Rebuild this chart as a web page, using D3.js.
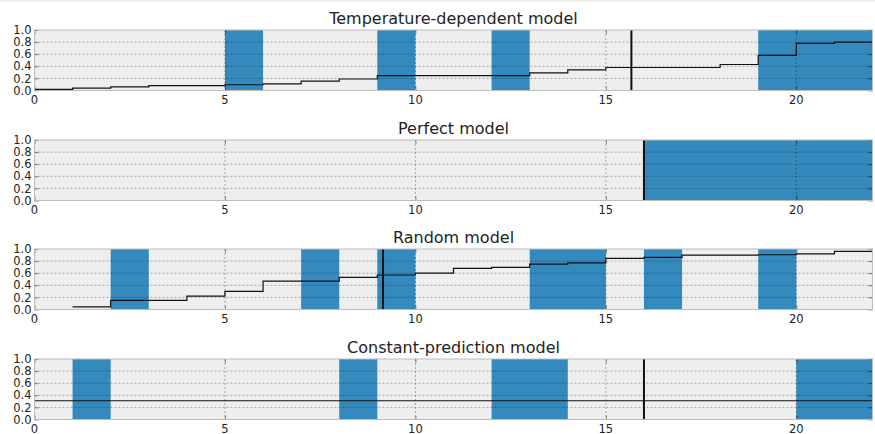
<!DOCTYPE html>
<html>
<head>
<meta charset="utf-8">
<script src="https://cdn.jsdelivr.net/npm/d3@7"></script>
<style>
  body { margin: 0; background: #fff; }
  text { font-family: "DejaVu Sans", sans-serif; fill: #222; }
</style>
</head>
<body>
<div id="chart"></div>
<script>
// tick labels
let x_ticks = [0, 5, 10, 15, 20]
let y_ticks = [0, 0.2, 0.4, 0.6, 0.8, 1.0]

let titles = ["Temperature-dependent model", "Perfect model", "Random model", "Constant-prediction model"]

// shaded periods (start, end)
let temp_spans = [[5, 6], [9, 10], [12, 13], [19, 22]]
let perfect_spans = [[16, 22]]
let random_spans = [[2, 3], [7, 8], [9, 10], [13, 15], [16, 17], [19, 20]]
let const_spans = [[1, 2], [8, 9], [12, 14], [20, 22]]

// step values, one per unit interval starting at x = 0 (null = no line)
let temp_steps = [0.02, 0.04, 0.06, 0.08, 0.08, 0.095, 0.11, 0.155, 0.19, 0.245, 0.245,
    0.245, 0.245, 0.29, 0.34, 0.38, 0.38, 0.38, 0.43, 0.58, 0.78, 0.80]
let perfect_steps = []
let random_steps = [null, 0.045, 0.15, 0.15, 0.22, 0.30, 0.47, 0.47, 0.53, 0.57, 0.60,
    0.68, 0.695, 0.75, 0.77, 0.845, 0.86, 0.90, 0.90, 0.905, 0.92, 0.96]
let const_steps = [0.31, 0.31, 0.31, 0.31, 0.31, 0.31, 0.31, 0.31, 0.31, 0.31, 0.31,
    0.31, 0.31, 0.31, 0.31, 0.31, 0.31, 0.31, 0.31, 0.31, 0.31, 0.31]

// black vertical markers
let marks = [15.67, 16, 9.15, 16]

let spans = [temp_spans, perfect_spans, random_spans, const_spans]
let steps = [temp_steps, perfect_steps, random_steps, const_steps]

let width = 875, height = 434
let left = 34.5, right = 872.5
let tops = [30, 140, 249, 359]
let panel_h = 60.5

let svg = d3.select("#chart")
    .append("svg")
        .attr("width", width)
        .attr("height", height)

// thin border at the very top of the page
svg.append("line")
    .attr("x1", 0).attr("x2", width)
    .attr("y1", 1).attr("y2", 1)
    .attr("stroke", "#ddd")

let x = d3.scaleLinear().domain([0, 22]).range([left, right])

titles.forEach(function(title, k) {
    let top = tops[k]
    let y = d3.scaleLinear().domain([0, 1]).range([top + panel_h, top])
    let g = svg.append("g")

    // background
    g.append("rect")
        .attr("x", left).attr("y", top)
        .attr("width", right - left).attr("height", panel_h)
        .attr("fill", "#eeeeee")

    // shaded spans
    g.selectAll("rect.span")
        .data(spans[k])
        .enter()
        .append("rect")
        .attr("class", "span")
        .attr("x", d => x(d[0]))
        .attr("y", top)
        .attr("width", d => x(d[1]) - x(d[0]))
        .attr("height", panel_h)
        .attr("fill", "#348ABD")

    // grid, dotted
    g.selectAll("line.hgrid")
        .data(y_ticks.slice(1, -1))
        .enter()
        .append("line")
        .attr("x1", left).attr("x2", right)
        .attr("y1", d => y(d)).attr("y2", d => y(d))
        .attr("stroke", "rgba(0,0,0,0.3)")
        .attr("stroke-dasharray", "2,2")
    g.selectAll("line.vgrid")
        .data(x_ticks.slice(1))
        .enter()
        .append("line")
        .attr("x1", d => x(d)).attr("x2", d => x(d))
        .attr("y1", top).attr("y2", top + panel_h)
        .attr("stroke", "rgba(0,0,0,0.3)")
        .attr("stroke-dasharray", "2,2")

    // inside ticks
    let yAxisL = d3.axisRight(y).tickValues(y_ticks).tickSize(4).tickFormat("")
    let yAxisR = d3.axisLeft(y).tickValues(y_ticks).tickSize(4).tickFormat("")
    let xAxisB = d3.axisTop(x).tickValues(x_ticks).tickSize(4).tickFormat("")
    let xAxisT = d3.axisBottom(x).tickValues(x_ticks).tickSize(4).tickFormat("")
    ;[[yAxisL, `translate(${left},0)`], [yAxisR, `translate(${right},0)`],
      [xAxisB, `translate(0,${top + panel_h})`], [xAxisT, `translate(0,${top})`]].forEach(function(a) {
        let ax = g.append("g").attr("transform", a[1]).call(a[0])
        ax.select(".domain").remove()
        ax.selectAll("line").attr("stroke", "rgba(0,0,0,0.45)")
    })

    // step line
    let pts = []
    steps[k].forEach(function(v, i) { pts.push([i, v]) })
    if (pts.length) pts.push([22, steps[k][steps[k].length - 1]])
    let line = d3.line()
        .defined(d => d[1] !== null)
        .x(d => x(d[0]))
        .y(d => y(d[1]))
        .curve(d3.curveStepAfter)
    g.append("path")
        .datum(pts)
        .attr("d", line)
        .attr("fill", "none")
        .attr("stroke", "#111")
        .attr("stroke-width", 1.2)

    // vertical marker
    g.append("line")
        .attr("x1", x(marks[k])).attr("x2", x(marks[k]))
        .attr("y1", top).attr("y2", top + panel_h)
        .attr("stroke", "#111")
        .attr("stroke-width", 2)

    // frame
    g.append("rect")
        .attr("x", left).attr("y", top)
        .attr("width", right - left).attr("height", panel_h)
        .attr("fill", "none")
        .attr("stroke", "#bcbcbc")

    // tick labels
    g.selectAll("text.ylab")
        .data(y_ticks)
        .enter()
        .append("text")
        .attr("x", left - 3)
        .attr("y", d => y(d))
        .attr("dy", "0.36em")
        .style("text-anchor", "end")
        .style("font-size", "11.5px")
        .text(d => d.toFixed(1))
    g.selectAll("text.xlab")
        .data(x_ticks)
        .enter()
        .append("text")
        .attr("x", d => x(d))
        .attr("y", top + panel_h + 13)
        .style("text-anchor", "middle")
        .style("font-size", "11.5px")
        .text(d => d)

    // title
    g.append("text")
        .attr("x", (left + right) / 2)
        .attr("y", top - 6)
        .style("text-anchor", "middle")
        .style("font-size", "16px")
        .text(title)
})
</script>
</body>
</html>
